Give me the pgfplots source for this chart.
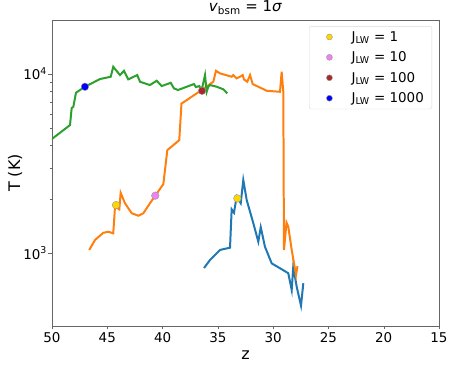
\documentclass[border=0pt]{standalone}
\usepackage{fontspec}
\setmainfont{DejaVu Sans}
\usepackage{pgfplots}
\pgfplotsset{compat=1.18}
\definecolor{tabblue}{HTML}{1F77B4}
\definecolor{taborange}{HTML}{FF7F0E}
\definecolor{tabgreen}{HTML}{2CA02C}
\definecolor{mgold}{HTML}{FFD700}
\definecolor{mviolet}{HTML}{EE82EE}
\definecolor{mbrown}{HTML}{A52A2A}
\definecolor{mblue}{HTML}{0000FF}

\begin{document}
\begin{tikzpicture}
\begin{axis}[
  scale only axis, width=387bp, height=306bp,
  ymode=log,
  x dir=reverse,
  xmin=15, xmax=50, ymin=391, ymax=20050,
  xtick={15,20,...,50},
  ytick={1000,10000}, yticklabels={10\textsuperscript{3},10\textsuperscript{4}},
  tick align=outside, tick pos=left,
  axis line style={black!60}, tick style={black!60},
  major tick length=3.5bp, minor tick length=2bp,
  /pgf/number format/assume math mode=true,
  tick label style={font=\fontsize{13.5}{16}\selectfont},
  yticklabel style={xshift=2bp},
  label style={font=\fontsize{16}{19}\selectfont},
  xlabel={z}, ylabel={T (K)},
  xlabel style={at={(axis description cs:0.5,-0.095)}, anchor=center},
  ylabel style={at={(axis description cs:-0.095,0.5)}, anchor=center},
  title={\textit{v}\textsubscript{bsm} = 1\textit{σ}},
  title style={font=\fontsize{15}{18}\selectfont, at={(axis description cs:0.5,1)},
    anchor=base, yshift=2.5bp},
  legend style={at={(0.982,0.98)}, anchor=north east, draw=black!15,
    rounded corners=2pt, font=\fontsize{13.5}{16}\selectfont,
    row sep=5bp, inner xsep=6bp, inner ysep=3bp},
  legend cell align=left,
  legend image code/.code={\path (0bp,0bp) (34bp,0bp);
    \draw[#1, mark size=3bp] plot coordinates {(14bp,0bp)};},
]
% blue track
\addplot[tabblue, line width=2pt, forget plot] coordinates {
 (36.25,824) (35.71,914) (34.81,1040) (33.90,1071) (33.75,1754) (33.54,1679)
 (33.30,2066) (32.93,1897) (32.70,2559) (32.39,1977) (31.79,1466) (31.34,1156)
 (31.12,1394) (30.74,1084) (30.13,875) (29.38,822) (28.63,771) (28.32,621)
 (28.18,838) (27.87,648) (27.48,508) (27.27,678)
};
% orange track
\addplot[taborange, line width=2pt, forget plot] coordinates {
 (46.63,1040) (46.11,1183) (45.36,1297) (44.91,1315) (44.46,1288) (44.30,1815)
 (43.91,1754) (43.79,2171) (43.40,1897) (42.79,1668) (42.19,1616) (41.74,1668)
 (41.14,1897) (40.66,2091) (39.93,2427) (39.57,3758) (38.49,4272) (38.29,6837)
 (36.46,8144) (35.71,8793) (35.41,9057) (35.17,10430) (34.81,10090) (33.75,9659)
 (33.60,9872) (33.30,9461) (33.00,9659) (32.75,9872) (32.64,9341) (32.34,9057)
 (32.09,9872) (31.85,8793) (31.34,8492) (30.58,8067) (29.38,7960) (29.23,10300)
 (29.08,7960) (29.02,1040) (28.79,1479) (28.63,1403) (28.32,1040) (27.93,754)
 (27.80,845)
};
% green track
\addplot[tabgreen, line width=2pt, forget plot] coordinates {
 (50.3,4200) (48.37,5188) (48.22,6457) (48.07,6563) (47.83,7868) (47.02,8492)
 (45.66,9377) (44.69,9659) (44.46,10980) (43.85,9872) (43.49,10430) (43.10,9341)
 (42.29,9872) (42.04,9057) (41.14,8683) (40.53,9174) (40.08,8570) (39.26,8935)
 (38.97,8314) (38.60,8144) (37.82,8492) (37.16,8793) (36.98,8454) (36.68,8570)
 (36.46,8144) (36.16,9872) (36.01,7960) (35.86,8492) (35.71,8683) (35.10,8492)
 (34.51,8222) (34.15,7800)
};
\addplot[only marks, mark=*, mark size=3.8bp, draw=black!40, fill=mgold]
  coordinates {(44.21,1854) (33.24,2018)};
\addlegendentry{J\textsubscript{LW} = 1}
\addplot[only marks, mark=*, mark size=3.8bp, draw=black!40, fill=mviolet]
  coordinates {(40.66,2091)};
\addlegendentry{J\textsubscript{LW} = 10}
\addplot[only marks, mark=*, mark size=3.8bp, draw=black!40, fill=mbrown]
  coordinates {(36.43,8060)};
\addlegendentry{J\textsubscript{LW} = 100}
\addplot[only marks, mark=*, mark size=3.8bp, draw=black!40, fill=mblue]
  coordinates {(47.02,8492)};
\addlegendentry{J\textsubscript{LW} = 1000}
\end{axis}
\pgfresetboundingbox
\path ([shift={(-52bp,-42bp)}]current axis.south west) rectangle
      ([shift={(14bp,20bp)}]current axis.north east);
\end{tikzpicture}
\end{document}
